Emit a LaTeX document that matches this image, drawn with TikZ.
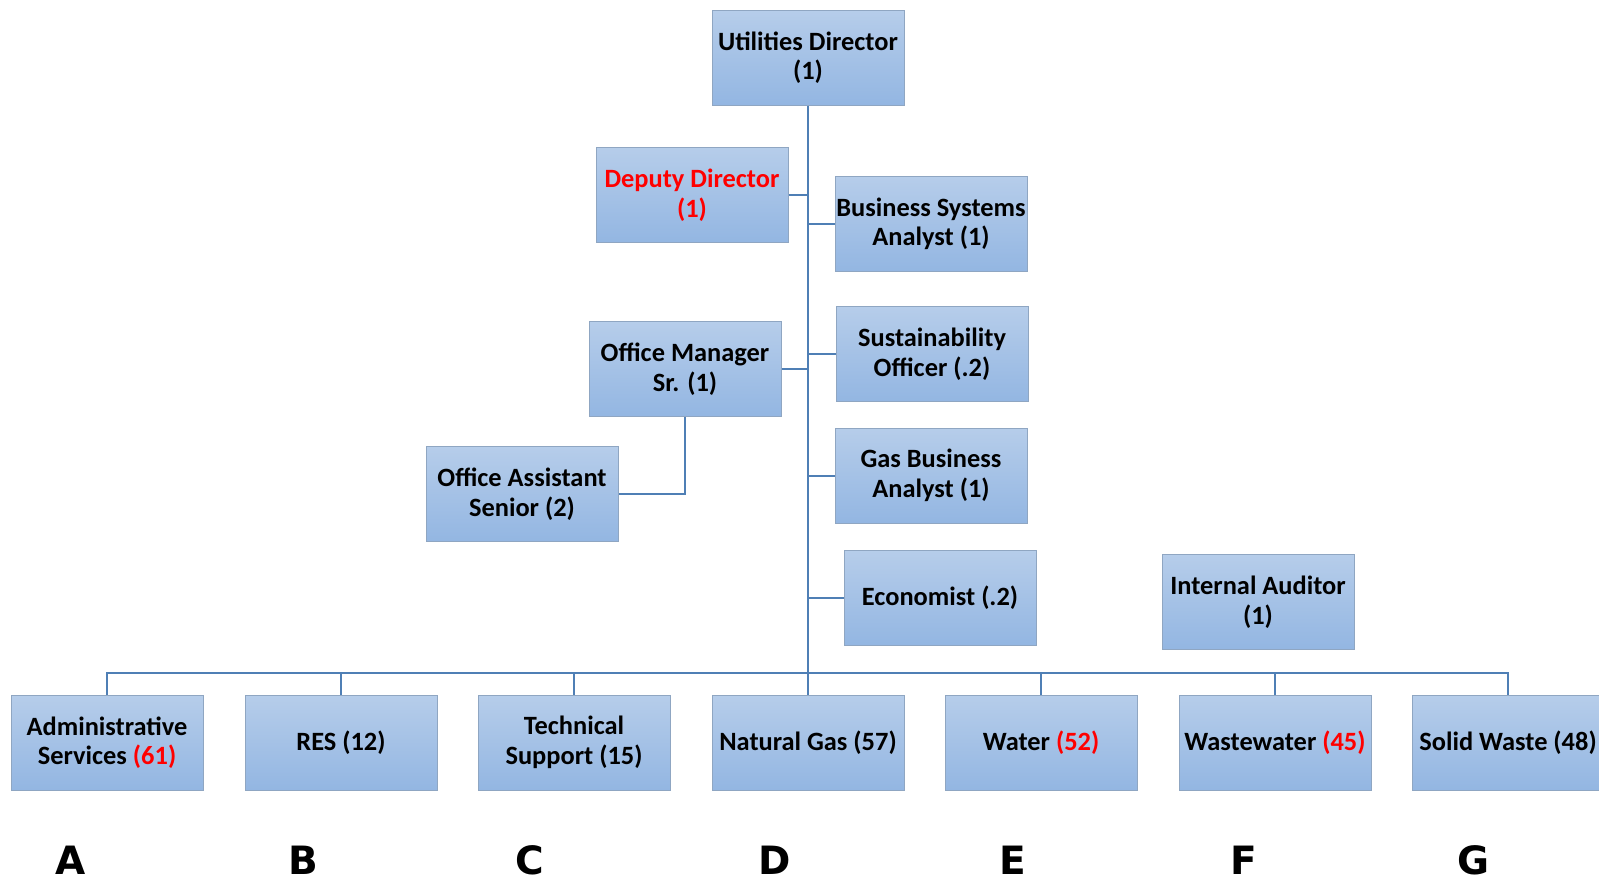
\documentclass[tikz,border=0pt]{standalone}
\usepackage{fontspec}
\setmainfont{Carlito}
\newfontfamily\letterfont{DejaVu Sans}
\definecolor{boxtop}{HTML}{B6CDEA}
\definecolor{boxbot}{HTML}{93B6E2}
\definecolor{boxline}{HTML}{8FA6C2}
\definecolor{conn}{HTML}{4F7FB5}
\definecolor{redtxt}{HTML}{FF0000}
\tikzset{
  orgbox/.style={rectangle, draw=boxline, line width=1pt, top color=boxtop, bottom color=boxbot,
    minimum width=192pt, minimum height=95pt, inner sep=0pt, align=center,
    font=\fontsize{26.4}{29.5}\selectfont\bfseries},
  wire/.style={draw=conn, line width=2pt},
  trunk/.style={draw=conn, line width=2.6pt},
  letter/.style={font=\letterfont\fontsize{39}{39}\selectfont\bfseries, inner sep=0pt, anchor=base}
}
\begin{document}
\begin{tikzpicture}[x=1pt,y=-1pt]
\useasboundingbox (0,0) rectangle (1599,881);
% nodes
\node[orgbox] (UD) at (808,57.5) {Utilities Director\\(1)};
\node[orgbox] (DD) at (692,195) {\color{redtxt}Deputy Director\\\color{redtxt}(1)};
\node[orgbox] (BSA) at (931,224) {Business Systems\\Analyst (1)};
\node[orgbox] (SO) at (932,354) {Sustainability\\Officer (.2)};
\node[orgbox] (OM) at (685,369) {Office Manager\\Sr. (1)};
\node[orgbox] (OA) at (522,494) {Office Assistant\\Senior (2)};
\node[orgbox] (GBA) at (931,475.5) {Gas Business\\Analyst (1)};
\node[orgbox] (EC) at (940,598) {Economist (.2)};
\node[orgbox] (IA) at (1258,602) {Internal Auditor\\(1)};
\node[orgbox] (AS) at (107,742.5) {Administrative\\Services {\color{redtxt}(61)}};
\node[orgbox] (RES) at (341,742.5) {RES (12)};
\node[orgbox] (TS) at (574,742.5) {Technical\\Support (15)};
\node[orgbox] (NG) at (808,742.5) {Natural Gas (57)};
\node[orgbox] (WA) at (1041,742.5) {Water {\color{redtxt}(52)}};
\node[orgbox] (WW) at (1275,742.5) {Wastewater {\color{redtxt}(45)}};
\node[orgbox] (SW) at (1508,742.5) {Solid Waste (48)};
% letters
\node[letter] (LA) at (71,874) {A};
\node[letter] (LB) at (303,874) {B};
\node[letter] (LC) at (530,874) {C};
\node[letter] (LD) at (775,874) {D};
\node[letter] (LE) at (1013,874) {E};
\node[letter] (LF) at (1244,874) {F};
\node[letter] (LG) at (1473,874) {G};
% connectors
\coordinate (bus) at (808,673);
\draw[wire] (AS.north) |- (bus) -| (SW.north);
\foreach \n in {RES,TS,WA,WW} \draw[wire] (\n.north) -- (\n.north |- bus);
\draw[trunk] (UD.south) -- (NG.north);
\draw[wire] (DD.east) -- (DD.east -| UD.south);
\draw[wire] (BSA.west) -- (BSA.west -| UD.south);
\draw[wire] (SO.west) -- (SO.west -| UD.south);
\draw[wire] (OM.east) -- (OM.east -| UD.south);
\draw[wire] (GBA.west) -- (GBA.west -| UD.south);
\draw[wire] (EC.west) -- (EC.west -| UD.south);
\draw[wire] (OM.south) |- (OA.east);
\end{tikzpicture}
\end{document}
